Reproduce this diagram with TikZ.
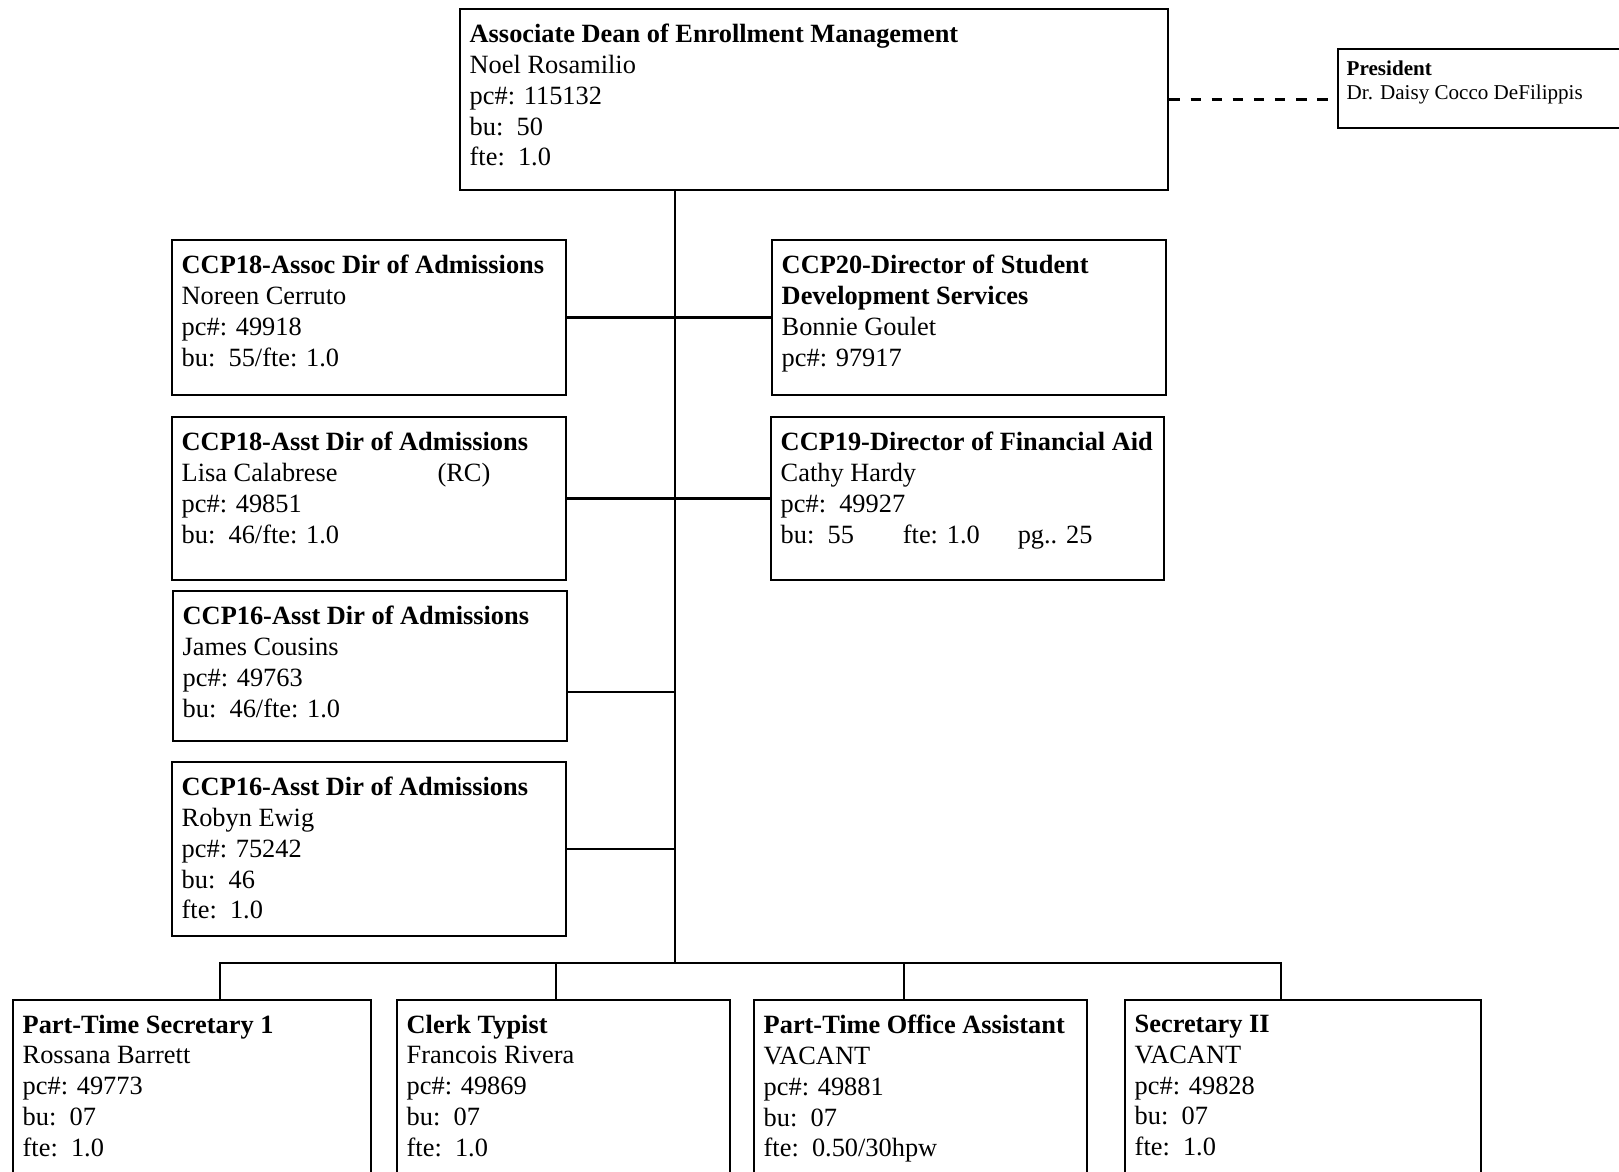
\documentclass[tikz,border=0pt]{standalone}
\usepackage{fontspec}
\setmainfont{Liberation Serif}
\usepackage{tikz}
\usetikzlibrary{positioning}
\usetikzlibrary{calc}
\tikzset{post/.style={draw, anchor=north west, inner sep=0pt, line width=0.7pt},info/.style={anchor=north west, align=left, inner sep=0pt, font=\fontsize{7.5}{8.8}\selectfont},link/.style={line width=0.7pt}}

\begin{document}
\begin{tikzpicture}[x=0.1mm, y=-0.1mm]
\clip (0,0) rectangle (1619,1172);

\node (dean) [post, minimum width=70.8mm, minimum height=18.1mm] at (459,8) {};
\node (dean-txt) [info] at ([shift={(10,15)}]dean.north west) {\textbf{Associate Dean of Enrollment Management}\\Noel Rosamilio\\pc\#: 115132\\bu:\ \ 50\\fte:\ \ 1.0};

\node (pres) [post, minimum width=30mm, minimum height=7.9mm] at (1337,48) {};
\node (pres-txt) [info, font=\fontsize{6}{6.9}\selectfont] at ([shift={(9,12)}]pres.north west) {\textbf{President}\\Dr. Daisy Cocco DeFilippis};

% left column
\node (assoc) [post, minimum width=39.4mm, minimum height=15.5mm] at (171,239) {};
\node (assoc-txt) [info] at ([shift={(10,15)}]assoc.north west) {\textbf{CCP18-Assoc Dir of Admissions}\\Noreen Cerruto\\pc\#: 49918\\bu:\ \ 55/fte: 1.0};

\node (calabrese) [post, minimum width=39.4mm, minimum height=16.3mm] at (171,416) {};
\node (calabrese-txt) [info] at ([shift={(10,15)}]calabrese.north west) {\textbf{CCP18-Asst Dir of Admissions}\\Lisa Calabrese\hspace{10mm}(RC)\\pc\#: 49851\\bu:\ \ 46/fte: 1.0};

\node (cousins) [post, minimum width=39.4mm, minimum height=15mm] at (172,590) {};
\node (cousins-txt) [info] at ([shift={(10,15)}]cousins.north west) {\textbf{CCP16-Asst Dir of Admissions}\\James Cousins\\pc\#: 49763\\bu:\ \ 46/fte: 1.0};

\node (ewig) [post, minimum width=39.4mm, minimum height=17.4mm] at (171,761) {};
\node (ewig-txt) [info] at ([shift={(10,15)}]ewig.north west) {\textbf{CCP16-Asst Dir of Admissions}\\Robyn Ewig\\pc\#: 75242\\bu:\ \ 46\\fte:\ \ 1.0};

% right column
\node (studev) [post, minimum width=39.4mm, minimum height=15.5mm] at (771,239) {};
\node (studev-txt) [info] at ([shift={(10,15)}]studev.north west) {\textbf{CCP20-Director of Student}\\\textbf{Development Services}\\Bonnie Goulet\\pc\#: 97917};

\node (finaid) [post, minimum width=39.3mm, minimum height=16.3mm] at (770,416) {};
\node (finaid-txt) [info] at ([shift={(10,15)}]finaid.north west) {\textbf{CCP19-Director of Financial Aid}\\Cathy Hardy\\pc\#:\ \ 49927\\bu:\ \ 55\hspace{4.9mm}fte: 1.0\hspace{3.8mm}pg.. 25};

% bottom row
\node (ptsec) [post, minimum width=35.8mm, minimum height=20mm] at (12,999) {};
\node (ptsec-txt) [info] at ([shift={(10,15)}]ptsec.north west) {\textbf{Part-Time Secretary 1}\\Rossana Barrett\\pc\#: 49773\\bu:\ \ 07\\fte:\ \ 1.0};

\node (clerk) [post, minimum width=33.3mm, minimum height=20mm] at (396,999) {};
\node (clerk-txt) [info] at ([shift={(10,15)}]clerk.north west) {\textbf{Clerk Typist}\\Francois Rivera\\pc\#: 49869\\bu:\ \ 07\\fte:\ \ 1.0};

\node (ptoa) [post, minimum width=33.3mm, minimum height=20mm] at (753,999) {};
\node (ptoa-txt) [info] at ([shift={(10,15)}]ptoa.north west) {\textbf{Part-Time Office Assistant}\\VACANT\\pc\#: 49881\\bu:\ \ 07\\fte:\ \ 0.50/30hpw};

\node (sec2) [post, minimum width=35.6mm, minimum height=20mm] at (1124,999) {};
\node (sec2-txt) [info] at ([shift={(10,15)}]sec2.north west) {\textbf{Secretary II}\\VACANT\\pc\#: 49828\\bu:\ \ 07\\fte:\ \ 1.0};

% connectors
\coordinate (bus) at (675,963);
\draw[link, dashed] (dean.east) -- (dean.east -| pres.west);
\draw[link] (dean.south -| bus) -- (bus);
\draw[link] (assoc.east) -- (studev.west);
\draw[link] (calabrese.east) -- (finaid.west);
\coordinate (c3) at ([yshift=-2.6mm]cousins.east);
\draw[link] (c3) -- (c3 -| bus);
\draw[link] (ewig.east) -- (ewig.east -| bus);

\coordinate (d1) at ([xshift=2.8mm]ptsec.north);
\coordinate (d2) at ([xshift=-0.75mm]clerk.north);
\coordinate (d3) at ([xshift=-1.65mm]ptoa.north);
\coordinate (d4) at ([xshift=-2.2mm]sec2.north);
\draw[link] (d1) |- (bus) -| (d4);
\draw[link] (d2) -- (d2 |- bus);
\draw[link] (d3) -- (d3 |- bus);
\end{tikzpicture}
\end{document}
